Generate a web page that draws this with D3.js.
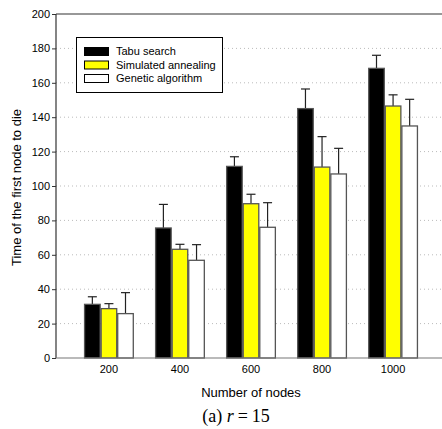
<!DOCTYPE html>
<html><head><meta charset="utf-8">
<script src="https://cdn.jsdelivr.net/npm/d3@7"></script>
<style>body{margin:0;background:#fff}svg{display:block}</style>
</head><body>
<svg id="c" width="442" height="429"></svg>
<script>
const categories = ["200","400","600","800","1000"];
const series = ["Tabu search","Simulated annealing","Genetic algorithm"];
const tabuMean = [31.2, 75.6, 111.4, 145, 168.4];
const tabuErr  = [35.6, 89.3, 117, 156.4, 176];
const saMean   = [28.7, 63.2, 89.7, 111, 146.5];
const saErr    = [31.6, 66.1, 95.2, 128.7, 153];
const gaMean   = [25.8, 56.8, 76, 107, 134.9];
const gaErr    = [38, 65.9, 90.3, 121.9, 150.4];
const yTicks = [0,20,40,60,80,100,120,140,160,180,200];
const colors = ["#000000","#ffff00","#ffffff"];
const means = [tabuMean, saMean, gaMean];
const errs = [tabuErr, saErr, gaErr];

const svg = d3.select("#c");
const L=56, R=446, T=14, B=358;
const x = d3.scaleBand().domain(categories).range([L,R]).paddingInner(0.3).paddingOuter(0.395);
const xs = d3.scaleBand().domain(series).range([0,x.bandwidth()]);
const y = d3.scaleLinear().domain([0,200]).range([B,T]);
const font = "Liberation Sans, Arial, sans-serif";

// grid
svg.append("g").selectAll("line").data(yTicks.slice(1,-1)).join("line")
  .attr("x1",L).attr("x2",442).attr("y1",d=>y(d)).attr("y2",d=>y(d))
  .attr("stroke","#bbb").attr("stroke-width",1).attr("stroke-dasharray","1,3");

// bars
const data = [];
categories.forEach((c,i)=>series.forEach((s,j)=>data.push({c,s,j,v:means[j][i],e:errs[j][i]})));
const g = svg.append("g");
const cx = d=>x(d.c)+xs(d.s)+xs.bandwidth()/2;
g.selectAll("line.eb").data(data).join("line").attr("class","eb")
  .attr("x1",cx).attr("x2",cx)
  .attr("y1",d=>y(d.v)).attr("y2",d=>y(d.e)).attr("stroke","#222").attr("stroke-width",1.2);
g.selectAll("line.cap").data(data).join("line").attr("class","cap")
  .attr("x1",d=>cx(d)-4.5).attr("x2",d=>cx(d)+4.5)
  .attr("y1",d=>y(d.e)).attr("y2",d=>y(d.e)).attr("stroke","#222").attr("stroke-width",1.2);
g.selectAll("rect").data(data).join("rect")
  .attr("x",d=>x(d.c)+xs(d.s)+0.5).attr("width",xs.bandwidth()-1)
  .attr("y",d=>y(d.v)).attr("height",d=>B-y(d.v))
  .attr("fill",d=>colors[d.j]).attr("stroke","#555").attr("stroke-width",1.3);

// axes
svg.append("line").attr("x1",L).attr("x2",L).attr("y1",T).attr("y2",B).attr("stroke","#333").attr("stroke-width",1.2);
svg.append("line").attr("x1",L).attr("x2",442).attr("y1",T).attr("y2",T).attr("stroke","#333").attr("stroke-width",1.2);
svg.append("line").attr("x1",L).attr("x2",442).attr("y1",B).attr("y2",B).attr("stroke","#777").attr("stroke-width",1.2);
const ya = svg.append("g").attr("transform",`translate(${L},0)`)
  .call(d3.axisLeft(y).tickValues(yTicks).tickSize(4).tickPadding(2));
ya.select(".domain").remove();
ya.selectAll("line").attr("stroke","#333");
ya.selectAll("text").attr("font-family",font).attr("font-size","11px").attr("fill","#000");
const xa = svg.append("g").attr("transform",`translate(0,${B})`)
  .call(d3.axisBottom(x).tickSize(0).tickPadding(7));
xa.select(".domain").remove();
xa.selectAll("text").attr("font-family",font).attr("font-size","11px").attr("fill","#000");

// titles
svg.append("text").attr("transform","translate(20.5,187.5) rotate(-90)").attr("text-anchor","middle")
  .attr("font-family",font).attr("font-size","13px").text("Time of the first node to die");
svg.append("text").attr("x",251).attr("y",397).attr("text-anchor","middle")
  .attr("font-family",font).attr("font-size","13px").text("Number of nodes");
const cap = svg.append("text").attr("x",236).attr("y",422).attr("text-anchor","middle")
  .attr("font-family","Liberation Serif, Times New Roman, serif").attr("font-size","18px");
cap.append("tspan").text("(a) ");
cap.append("tspan").attr("font-style","italic").text("r");
cap.append("tspan").attr("dx","4").text("=");
cap.append("tspan").attr("dx","4").text("15");

// legend
const lg = svg.append("g");
lg.append("rect").attr("x",76.5).attr("y",37.5).attr("width",146).attr("height",55)
  .attr("fill","#fff").attr("stroke","#000").attr("stroke-width",1);
series.forEach((s,j)=>{
  const yy = 51.5 + j*13.5;
  lg.append("rect").attr("x",84.5).attr("y",yy-4).attr("width",24).attr("height",8)
    .attr("fill",colors[j]).attr("stroke","#000").attr("stroke-width",1);
  lg.append("text").attr("x",116).attr("y",yy+3.5).attr("font-family",font).attr("font-size","11px").text(s);
});
</script>
</body></html>
